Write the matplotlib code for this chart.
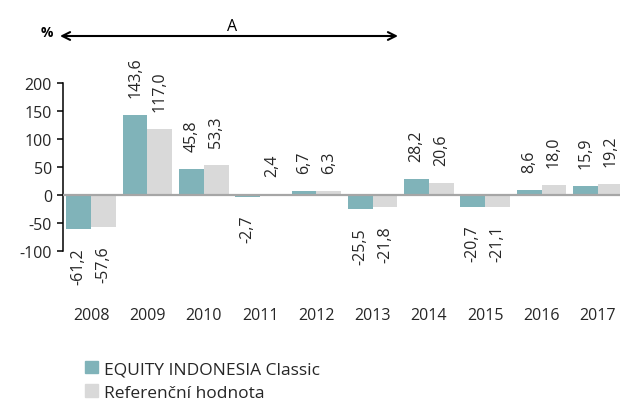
import numpy as np
import matplotlib
matplotlib.use("Agg")
import matplotlib.pyplot as plt

plt.rcParams['font.family'] = ['Open Sans', 'DejaVu Sans']
plt.rcParams['axes.unicode_minus'] = False

# data
years = ['2008', '2009', '2010', '2011', '2012', '2013', '2014', '2015', '2016', '2017']
fund = [-61.2, 143.6, 45.8, -2.7, 6.7, -25.5, 28.2, -20.7, 8.6, 15.9]
bench = [-57.6, 117.0, 53.3, 2.4, 6.3, -21.8, 20.6, -21.1, 18.0, 19.2]
series_names = ['EQUITY INDONESIA Classic', 'Referenční hodnota']
colors = ['#80b3b9', '#d9d9d9']
text_col = '#262626'

fig = plt.figure(figsize=(6.2, 4.06), dpi=100)
# axes runs a touch past the right edge, as in the reference
ax = fig.add_axes([63 / 620, 1 - 252 / 406, 563 / 620, 168 / 406])

x = np.arange(len(years))
w = 0.44
for vals, off, col in [(fund, -w / 2, colors[0]), (bench, w / 2, colors[1])]:
    bars = ax.bar(x + off, vals, width=w, color=col, zorder=2)
    for b, v in zip(bars, vals):
        lbl = f'{v:.1f}'.replace('.', ',')
        ax.annotate(lbl, (b.get_x() + b.get_width() / 2, v),
                    xytext=(0, 13 if v >= 0 else -13), textcoords='offset points',
                    rotation=90, ha='center', va='bottom' if v >= 0 else 'top',
                    fontsize=11.5, color=text_col, annotation_clip=False)

ax.axhline(0, color='#a6a6a6', lw=1.6, zorder=3)
ax.set_xlim(-0.5, len(years) - 0.5)
ax.set_ylim(-100, 200)
ax.set_yticks([-100, -50, 0, 50, 100, 150, 200])
ax.set_xticks(x)
ax.set_xticklabels(years)
ax.tick_params(axis='x', length=0, pad=40, labelsize=11.5, labelcolor=text_col)
ax.tick_params(axis='y', length=4, width=1.1, pad=4, labelsize=11.5, labelcolor=text_col)
for s in ['top', 'right', 'bottom']:
    ax.spines[s].set_visible(False)
ax.spines['left'].set_linewidth(1.1)

# header: % sign and the "A" period arrow
fig.text(47 / 620, 1 - 33 / 406, '%', fontsize=10, fontweight='bold',
         ha='center', va='center', color='black')
ax.annotate('', xy=(398 / 620, 1 - 37 / 406), xytext=(60 / 620, 1 - 37 / 406),
            xycoords='figure fraction', textcoords='figure fraction',
            arrowprops=dict(arrowstyle='<->', lw=1.5, color='black',
                            shrinkA=0, shrinkB=0, mutation_scale=14))
fig.text(232 / 620, 1 - 27 / 406, 'A', fontsize=11.5, ha='center', va='center', color='black')

# legend
handles = [plt.Rectangle((0, 0), 1, 1, color=c) for c in colors]
fig.legend(handles, series_names, loc='upper left',
           bbox_to_anchor=(83 / 620, 1 - 360 / 406), frameon=False,
           fontsize=12.5, handlelength=0.75, handleheight=0.75, handletextpad=0.35,
           labelspacing=0.42, labelcolor=text_col, borderaxespad=0, borderpad=0.1)

fig.savefig('out.png', dpi=100)
